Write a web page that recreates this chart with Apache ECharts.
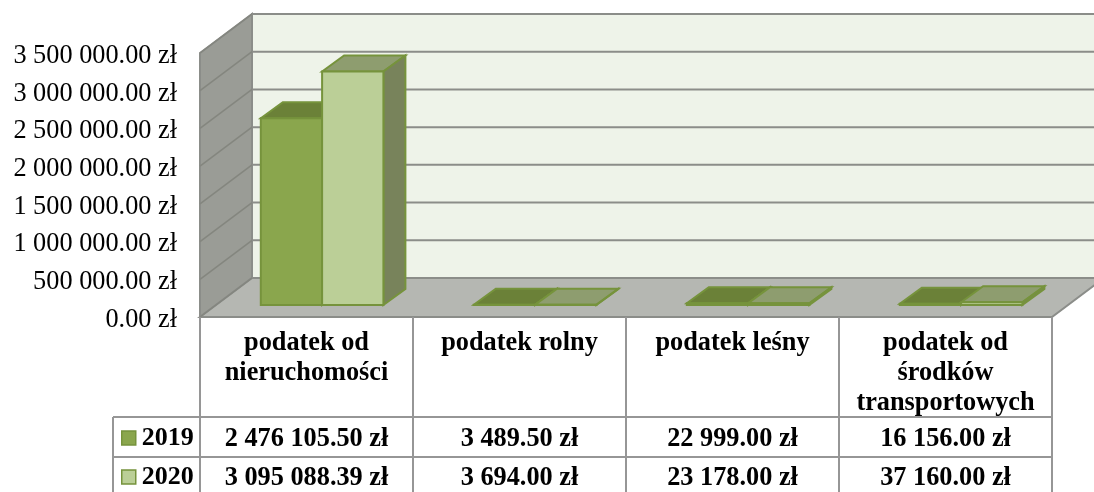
<!DOCTYPE html>
<html>
<head>
<meta charset="utf-8">
<style>
	html, body { margin: 0; padding: 0; background: #fff; }
	#chart { width: 1094px; height: 492px; }
</style>
<script src="https://cdn.jsdelivr.net/npm/echarts@6/dist/echarts.min.js"></script>
</head>
<body>
<div id="chart"></div>
<script>
var categories = ['podatek od\nnieruchomości', 'podatek rolny', 'podatek leśny', 'podatek od\nśrodków\ntransportowych'];
var years = ['2019', '2020'];
var values2019 = [2476105.50, 3489.50, 22999.00, 16156.00];
var values2020 = [3095088.39, 3694.00, 23178.00, 37160.00];
var yTicks = [0, 500000, 1000000, 1500000, 2000000, 2500000, 3000000, 3500000];

var FONT = '"Liberation Serif"';
var GRID_LINE = '#8b8d89';
var TABLE_LINE = '#969696';
// wall depth and bar depth, in pixels
var DEPTH_X = 52, DEPTH_Y = 39;
var BAR_DX = 15.6, BAR_DY = 12;
var BAR_DEPTH_X = 22, BAR_DEPTH_Y = 16;
var ROW_1 = 417, ROW_2 = 457, ROW_END = 494;

function money(v) {
	var parts = v.toFixed(2).split('.');
	return parts[0].replace(/\B(?=(\d{3})+$)/g, ' ') + '.' + parts[1] + ' zł';
}

function poly(points, fill, stroke, width) {
	return {
		type: 'polygon',
		shape: { points: points },
		style: { fill: fill, stroke: stroke || null, lineWidth: width || 0, lineJoin: 'miter' }
	};
}

function line(x1, y1, x2, y2, color, width) {
	return {
		type: 'line',
		shape: { x1: x1, y1: y1, x2: x2, y2: y2 },
		style: { stroke: color, lineWidth: width, fill: null }
	};
}

function renderWalls(params) {
	var c = params.coordSys;
	var l = c.x, r = c.x + c.width, t = c.y, b = c.y + c.height;
	return {
		type: 'group',
		children: [
			poly([[l + DEPTH_X, t - DEPTH_Y], [r + DEPTH_X, t - DEPTH_Y], [r + DEPTH_X, b - DEPTH_Y], [l + DEPTH_X, b - DEPTH_Y]], '#eef3e9', GRID_LINE, 2),
			poly([[l, t], [l + DEPTH_X, t - DEPTH_Y], [l + DEPTH_X, b - DEPTH_Y], [l, b]], '#9a9c96', GRID_LINE, 2),
			poly([[l, b], [l + DEPTH_X, b - DEPTH_Y], [r + DEPTH_X, b - DEPTH_Y], [r, b]], '#b5b7b2', GRID_LINE, 2)
		]
	};
}

function renderTick(params, api) {
	var c = params.coordSys;
	var y = api.coord([0, api.value(1)])[1];
	var l = c.x, r = c.x + c.width;
	return {
		type: 'group',
		children: [
			line(l, y, l + DEPTH_X, y - DEPTH_Y, '#84867f', 1.5),
			line(l + DEPTH_X, y - DEPTH_Y, r + DEPTH_X, y - DEPTH_Y, GRID_LINE, 2)
		]
	};
}

function barRenderer(slot, front, top, side) {
	return function(params, api) {
		var base = api.coord([api.value(0), 0]);
		var head = api.coord([api.value(0), api.value(1)]);
		var w = api.size([1, 0])[0] * 0.2878;
		var x0 = base[0] + BAR_DX + (slot - 1) * w;
		var x1 = x0 + w;
		var y0 = base[1] - BAR_DY;
		var y1 = head[1] - BAR_DY;
		var edge = '#76933c';
		return {
			type: 'group',
			children: [
				poly([[x0, y1], [x0 + BAR_DEPTH_X, y1 - BAR_DEPTH_Y], [x1 + BAR_DEPTH_X, y1 - BAR_DEPTH_Y], [x1, y1]], top, edge, 2),
				poly([[x1, y0], [x1 + BAR_DEPTH_X, y0 - BAR_DEPTH_Y], [x1 + BAR_DEPTH_X, y1 - BAR_DEPTH_Y], [x1, y1]], side, edge, 2),
				poly([[x0, y0], [x1, y0], [x1, y1], [x0, y1]], front, edge, 2)
			]
		};
	};
}

function renderTable(params, api) {
	var idx = api.value(0);
	var x = api.coord([idx, 0])[0];
	var w = api.size([1, 0])[0];
	var b = params.coordSys.y + params.coordSys.height;
	var l = x - w / 2, r = x + w / 2;
	var cells = [
		line(r, b, r, ROW_END, TABLE_LINE, 2),
		line(l, ROW_1, r, ROW_1, TABLE_LINE, 2),
		line(l, ROW_2, r, ROW_2, TABLE_LINE, 2)
	];
	if (idx === 0) {
		cells.push(line(l, b, l, ROW_END, TABLE_LINE, 2));
	}
	cells.push({
		type: 'text',
		style: { x: x, y: 439, text: money(values2019[idx]), align: 'center', verticalAlign: 'middle', font: 'bold 26.3px ' + FONT, fill: '#000' }
	});
	cells.push({
		type: 'text',
		style: { x: x, y: 478, text: money(values2020[idx]), align: 'center', verticalAlign: 'middle', font: 'bold 26.3px ' + FONT, fill: '#000' }
	});
	return { type: 'group', children: cells };
}

function pairs(list) {
	return list.map(function(v, i) { return [i, v]; });
}

var chart = echarts.init(document.getElementById('chart'), null, { renderer: 'canvas' });
chart.setOption({
	animation: false,
	backgroundColor: '#fff',
	textStyle: { fontFamily: FONT },
	grid: { left: 200, right: 42, top: 53, bottom: 175, containLabel: false },
	legend: {
		data: [
			{ name: years[0], icon: 'rect', itemStyle: { color: '#8aa64d', borderColor: '#76933c', borderWidth: 1.5 } },
			{ name: years[1], icon: 'rect', itemStyle: { color: '#bbcf97', borderColor: '#76933c', borderWidth: 1.5 } }
		],
		orient: 'vertical',
		left: 121,
		top: 423,
		padding: 0,
		itemWidth: 14,
		itemHeight: 14,
		itemGap: 9,
		selectedMode: false,
		textStyle: { fontFamily: FONT, fontWeight: 'bold', fontSize: 26, color: '#000', padding: [4, 0, 0, 1], lineHeight: 26 }
	},
	xAxis: {
		type: 'category',
		data: categories,
		axisLine: { show: false },
		axisTick: { show: false },
		splitLine: { show: false },
		axisLabel: {
			interval: 0,
			margin: 11,
			verticalAlign: 'top',
			lineHeight: 30,
			fontFamily: FONT,
			fontWeight: 'bold',
			fontSize: 26.3,
			color: '#000'
		}
	},
	yAxis: {
		type: 'value',
		min: 0,
		max: 3500000,
		interval: 500000,
		axisLine: { show: false },
		axisTick: { show: false },
		splitLine: { show: false },
		axisLabel: {
			margin: 23,
			verticalAlign: 'top',
			lineHeight: 6,
			fontFamily: FONT,
			fontSize: 26.3,
			color: '#000',
			formatter: function(v) { return money(v); }
		}
	},
	series: [
		{ type: 'custom', name: 'walls', silent: true, z: 1, data: [[0, 0]], encode: { x: 0, y: 1 }, renderItem: renderWalls },
		{ type: 'custom', name: 'ticks', silent: true, z: 2, data: yTicks.map(function(t) { return [0, t]; }), encode: { x: 0, y: 1 }, renderItem: renderTick },
		{ type: 'custom', name: years[0], silent: true, z: 3, data: pairs(values2019), encode: { x: 0, y: 1 }, itemStyle: { color: '#8aa64d' }, renderItem: barRenderer(0, '#8aa64d', '#6b8138', '#6b8138') },
		{ type: 'custom', name: years[1], silent: true, z: 4, data: pairs(values2020), encode: { x: 0, y: 1 }, itemStyle: { color: '#bbcf97' }, renderItem: barRenderer(1, '#bbcf97', '#8e9d6f', '#78835b') },
		{ type: 'custom', name: 'table', silent: true, z: 5, data: pairs(values2019), encode: { x: 0, y: 1 }, renderItem: renderTable }
	],
	graphic: [
		{ type: 'line', shape: { x1: 113, y1: ROW_1, x2: 200, y2: ROW_1 }, style: { stroke: TABLE_LINE, lineWidth: 2 }, z: 5 },
		{ type: 'line', shape: { x1: 113, y1: ROW_2, x2: 200, y2: ROW_2 }, style: { stroke: TABLE_LINE, lineWidth: 2 }, z: 5 },
		{ type: 'line', shape: { x1: 113, y1: ROW_1, x2: 113, y2: ROW_END }, style: { stroke: TABLE_LINE, lineWidth: 2 }, z: 5 }
	]
});
</script>
</body>
</html>
